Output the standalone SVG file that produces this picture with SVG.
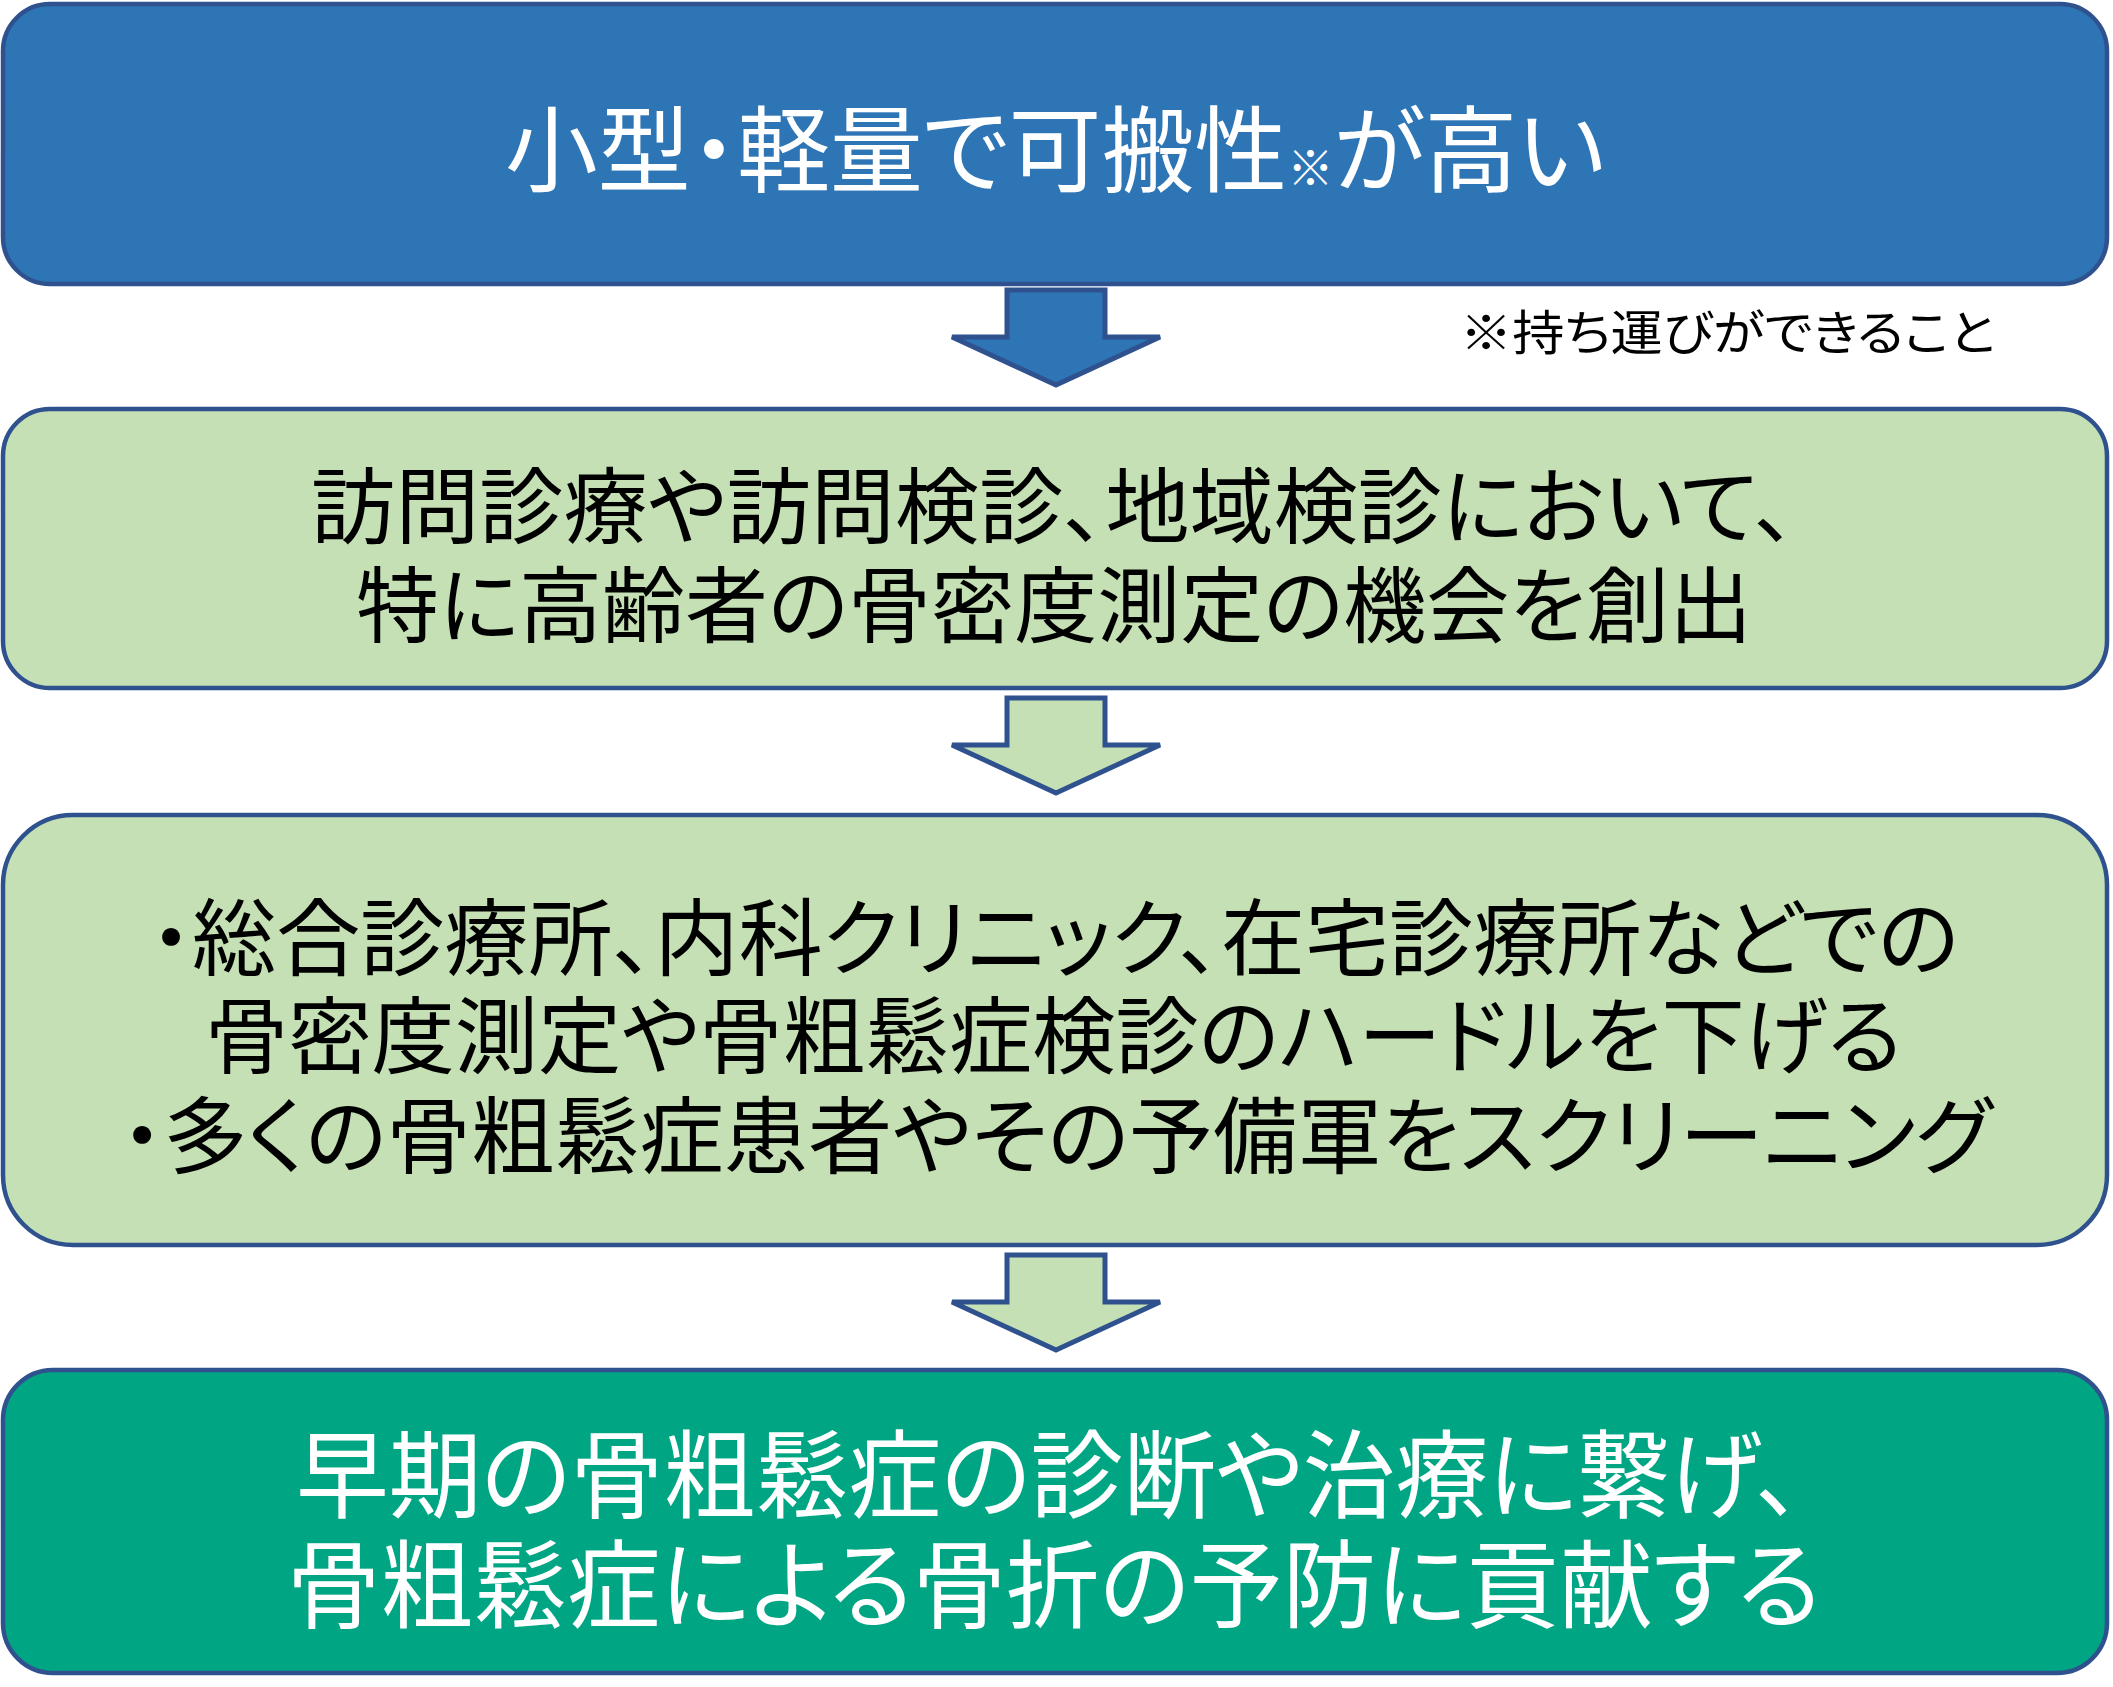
<svg xmlns="http://www.w3.org/2000/svg" width="2113" height="1687" viewBox="0 0 2113 1687">
<style>
.box{stroke:#2F528F;stroke-width:4.5}
.arrow{stroke:#2F528F;stroke-width:5;stroke-linejoin:miter}
.t{font-family:"Noto Sans CJK JP","Noto Sans CJK SC",sans-serif;font-feature-settings:"palt";}
.w{fill:#FFFFFF}
.k{fill:#000000}
</style>
<rect x="0" y="0" width="2113" height="1687" fill="#FFFFFF"/>
<g id="connectors">
<polygon class="arrow" fill="#2E75B6" points="1007,290 1105,290 1105,337 1160,337 1056,385 952,337 1007,337"/>
<polygon class="arrow" fill="#C5E0B4" points="1007,698 1105,698 1105,745 1160,745 1056,793 952,745 1007,745"/>
<polygon class="arrow" fill="#C5E0B4" points="1007,1255 1105,1255 1105,1302 1160,1302 1056,1350 952,1302 1007,1302"/>
</g>
<g id="node-portable">
<rect class="box" x="3" y="4" width="2104" height="280" rx="47" ry="47" fill="#2E75B6"/>
<text class="t w" x="505" y="185" font-size="94" textLength="1100" lengthAdjust="spacingAndGlyphs">小型・軽量で可搬性<tspan font-size="47">※</tspan>が高い</text>
</g>
<g id="note">
<text class="t k" x="1460" y="350" font-size="48" textLength="535" lengthAdjust="spacingAndGlyphs">※持ち運びができること</text>
</g>
<g id="node-opportunity">
<rect class="box" x="3" y="409" width="2104" height="279" rx="47" ry="47" fill="#C5E0B4"/>
<text class="t k" x="311" y="537" font-size="83" textLength="1485" lengthAdjust="spacingAndGlyphs">訪問診療や訪問検診、地域検診において、</text>
<text class="t k" x="356" y="636" font-size="83" textLength="1396" lengthAdjust="spacingAndGlyphs">特に高齢者の骨密度測定の機会を創出</text>
</g>
<g id="node-screening">
<rect class="box" x="3" y="815" width="2104" height="430" rx="70" ry="70" fill="#C5E0B4"/>
<text class="t k" x="150" y="969" font-size="84" textLength="1809" lengthAdjust="spacingAndGlyphs">・総合診療所、内科クリニック、在宅診療所などでの</text>
<text class="t k" x="205" y="1067" font-size="84" textLength="1697" lengthAdjust="spacingAndGlyphs">骨密度測定や骨粗鬆症検診のハードルを下げる</text>
<text class="t k" x="121" y="1167" font-size="84" textLength="1871" lengthAdjust="spacingAndGlyphs">・多くの骨粗鬆症患者やその予備軍をスクリーニング</text>
</g>
<g id="node-prevention">
<rect class="box" x="3" y="1370" width="2104" height="303" rx="50" ry="50" fill="#00A684"/>
<text class="t w" x="296" y="1510" font-size="96" textLength="1506" lengthAdjust="spacingAndGlyphs">早期の骨粗鬆症の診断や治療に繋げ、</text>
<text class="t w" x="287" y="1620" font-size="96" textLength="1534" lengthAdjust="spacingAndGlyphs">骨粗鬆症による骨折の予防に貢献する</text>
</g>
</svg>
